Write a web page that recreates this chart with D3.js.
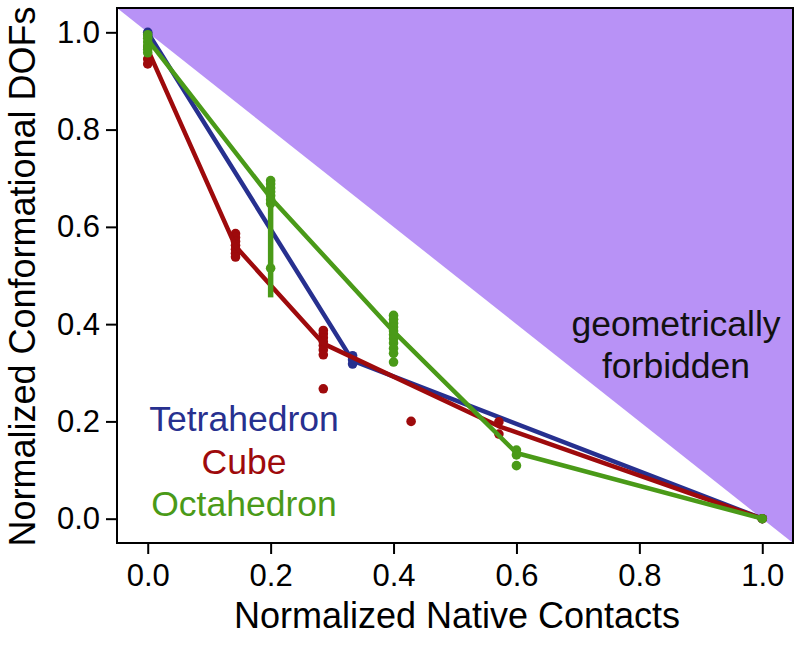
<!DOCTYPE html>
<html><head><meta charset="utf-8">
<script src="https://cdn.jsdelivr.net/npm/d3@7"></script>
<style>body{margin:0;background:#fff}svg{display:block}text{font-family:"Liberation Sans",Arial,Helvetica,sans-serif}</style>
</head><body><svg id="c" width="796" height="650"></svg>
<script>
// ---- data ----
const seriesNames = ["Tetrahedron", "Cube", "Octahedron"];
const seriesColors = ["#27308f", "#9e0a0c", "#4a9a18"];
// mean curves (x = normalized native contacts, y = normalized conformational DOFs)
const tetraX = [0, 1/3, 1];
const tetraY = [1.0, 0.325, 0.0];
const cubeX = [0, 1/7, 2/7, 4/7, 1];
const cubeY = [0.965, 0.56, 0.36, 0.19, 0.0];
const octaX = [0, 0.2, 0.4, 0.6, 1];
const octaY = [0.985, 0.66, 0.385, 0.135, 0.0];
// individual samples: [x, y]
const tetraPts = [[0,1.0],[0,0.995],[1/3,0.335],[1/3,0.327],[1/3,0.318],[1,0]];
const cubePts = [[0,0.97],[0,0.945],[0,0.935],
  [1/7,0.586],[1/7,0.578],[1/7,0.57],[1/7,0.562],[1/7,0.554],[1/7,0.546],[1/7,0.538],
  [2/7,0.387],[2/7,0.38],[2/7,0.372],[2/7,0.364],[2/7,0.356],[2/7,0.347],[2/7,0.337],[2/7,0.267],
  [3/7,0.2],[4/7,0.199],[4/7,0.174],[1,0]];
const octaPts = [[0,0.995],[0,0.988],[0,0.98],[0,0.972],[0,0.965],[0,0.958],
  [0.2,0.695],[0.2,0.688],[0.2,0.68],[0.2,0.672],[0.2,0.664],[0.2,0.656],[0.2,0.648],[0.2,0.515],
  [0.4,0.418],[0.4,0.41],[0.4,0.402],[0.4,0.394],[0.4,0.386],[0.4,0.378],[0.4,0.37],[0.4,0.361],
  [0.4,0.35],[0.4,0.34],[0.4,0.322],
  [0.6,0.141],[0.6,0.131],[0.6,0.109],[1,0]];
// spread of octahedron samples at x = 0.2 (min, max)
const octaSpread = [[0.2, 0.455, 0.70]];
const xTicks = [0, 0.2, 0.4, 0.6, 0.8, 1.0];
const yTicks = [0, 0.2, 0.4, 0.6, 0.8, 1.0];
const xDomain = [-0.05, 1.05], yDomain = [-0.05, 1.05];
const xTitle = "Normalized Native Contacts";
const yTitle = "Normalized Conformational DOFs";
const forbiddenLabel = ["geometrically", "forbidden"];

// ---- layout ----
const L = 117, R = 793, T = 8, B = 543;
const x = d3.scaleLinear().domain(xDomain).range([L, R]);
const y = d3.scaleLinear().domain(yDomain).range([B, T]);
const svg = d3.select("#c");

svg.append("defs").append("clipPath").attr("id","clip")
  .append("rect").attr("x",L).attr("y",T).attr("width",R-L).attr("height",B-T);
const g = svg.append("g").attr("clip-path","url(#clip)");

// forbidden region: y > 1 - x
const tri = [[xDomain[0], 1 - xDomain[0]], [xDomain[1], yDomain[1]], [xDomain[1], 1 - xDomain[1]]];
g.append("path").attr("fill","#b892f6")
  .attr("d", d3.line().x(d=>x(d[0])).y(d=>y(d[1]))(tri) + "Z");

const line = d3.line().x(d=>x(d[0])).y(d=>y(d[1]));
const means = [d3.zip(tetraX,tetraY), d3.zip(cubeX,cubeY), d3.zip(octaX,octaY)];
const pts = [tetraPts, cubePts, octaPts];

[0,1,2].forEach(i=>{
  const col = seriesColors[i];
  const sg = g.append("g");
  sg.selectAll("circle").data(pts[i]).join("circle")
    .attr("cx",d=>x(d[0])).attr("cy",d=>y(d[1])).attr("r",4.8).attr("fill",col);
  if(i===2){
    sg.selectAll("line.sp").data(octaSpread).join("line").attr("class","sp")
      .attr("x1",d=>x(d[0])).attr("x2",d=>x(d[0]))
      .attr("y1",d=>y(d[1])).attr("y2",d=>y(d[2]))
      .attr("stroke",col).attr("stroke-width",5.5);
  }
  sg.append("path").attr("d",line(means[i])).attr("fill","none")
    .attr("stroke",col).attr("stroke-width",4.5).attr("stroke-linejoin","round");
});

// frame
svg.append("rect").attr("x",L).attr("y",T).attr("width",R-L).attr("height",B-T)
  .attr("fill","none").attr("stroke","#000").attr("stroke-width",2);

// axes
const xAx = svg.append("g").attr("transform",`translate(0,${B})`)
  .call(d3.axisBottom(x).tickValues(xTicks).tickFormat(d3.format(".1f")).tickSize(11).tickPadding(10));
const yAx = svg.append("g").attr("transform",`translate(${L},0)`)
  .call(d3.axisLeft(y).tickValues(yTicks).tickFormat(d3.format(".1f")).tickSize(11).tickPadding(6));
[xAx,yAx].forEach(a=>{
  a.select(".domain").remove();
  a.selectAll(".tick line").attr("stroke","#000").attr("stroke-width",2);
  a.selectAll(".tick text").attr("fill","#000").style("font-size","31px")
    .style("font-family",'"Liberation Sans",Arial,sans-serif');
});

// titles
svg.append("text").attr("x",(L+R)/2+2).attr("y",628).attr("text-anchor","middle")
  .style("font-size","36px").text(xTitle);
svg.append("text").attr("transform",`translate(35,${(T+B)/2+1}) rotate(-90)`).attr("text-anchor","middle")
  .style("font-size","36px").text(yTitle);

// legend
const legY = [431, 474, 516];
seriesNames.forEach((n,i)=>{
  svg.append("text").attr("x",244).attr("y",legY[i]).attr("text-anchor","middle")
    .attr("fill",seriesColors[i]).style("font-size","35.5px").text(n);
});
forbiddenLabel.forEach((t,i)=>{
  svg.append("text").attr("x",676).attr("y",336+42*i).attr("text-anchor","middle")
    .attr("fill","#111").style("font-size","35.5px").text(t);
});
</script></body></html>
